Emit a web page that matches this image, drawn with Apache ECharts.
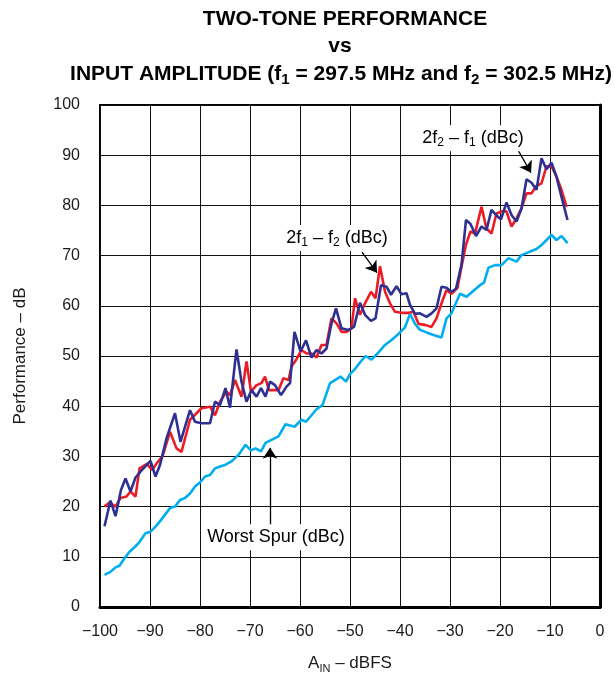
<!DOCTYPE html>
<html>
<head>
<meta charset="utf-8">
<script src="https://cdn.jsdelivr.net/npm/echarts@6/dist/echarts.min.js"></script>
<style>
  html, body { margin: 0; padding: 0; background: #fff; }
  #main { width: 615px; height: 673px; }
</style>
</head>
<body>
<div id="main"></div>
<script>
// 轴刻度
var xTicks = [-100, -90, -80, -70, -60, -50, -40, -30, -20, -10, 0];
var yTicks = [0, 10, 20, 30, 40, 50, 60, 70, 80, 90, 100];

// Worst Spur (dBc)
var spurX = [-99.1, -97.9, -96.9, -96.1, -95.1, -94.1, -93.1, -92.3, -90.9, -89.9, -88.9, -87.9, -86, -85, -84, -83, -82, -81, -80, -79, -78, -77, -76, -75, -73.7, -72.3, -70.9, -69.8, -68.9, -67.8, -66.9, -65.7, -64.3, -62.9, -61.1, -59.7, -58.8, -57.7, -56.7, -55.5, -54, -53, -51.9, -50.8, -50, -49, -48, -46.9, -45.7, -44.3, -43, -41.7, -40.3, -39, -38, -37, -36, -34.7, -33.3, -31.7, -30.7, -29.7, -28, -26.7, -25.3, -24, -23.2, -22.3, -21, -19.7, -18.3, -16.7, -15.7, -14, -12.7, -11.7, -10.7, -9.7, -8.7, -7.7, -6.5];
var spurY = [6.4, 7.0, 7.9, 8.2, 9.7, 11.0, 11.9, 12.7, 14.7, 15.0, 16.0, 17.2, 19.7, 20, 21.3, 21.7, 22.6, 24, 24.8, 26, 26.3, 27.6, 28, 28.3, 29, 30.3, 32.3, 31.2, 31.6, 31.0, 32.7, 33.3, 34, 36.4, 35.9, 37.3, 36.9, 38.2, 39.4, 40.2, 44.6, 45.2, 45.9, 44.9, 46.4, 47.4, 48.7, 50, 49.3, 50.7, 52.2, 53.2, 54.4, 55.7, 58.4, 56.4, 55.2, 54.7, 54.2, 53.7, 57.5, 58.5, 62.4, 61.8, 63, 64.1, 64.6, 67.6, 68.1, 68.1, 69.5, 68.8, 70.1, 70.8, 71.3, 72.1, 73.1, 74.1, 73.1, 73.9, 72.5];

// 2f1 - f2 (dBc)
var imd1X = [-99.1, -98.1, -96.9, -95.9, -94.7, -93.9, -92.9, -92.1, -90.6, -89.6, -88.6, -87.5, -86, -84.7, -83.7, -82, -80.7, -79.7, -78, -77, -76, -74.7, -74, -73, -71.7, -70.7, -69.8, -68.7, -67.7, -67, -66.2, -65.3, -64.3, -63.3, -62.3, -61.7, -60.8, -59.7, -58.7, -57.7, -56.7, -55.7, -54.7, -53.7, -52.7, -51.7, -50.7, -49.7, -49, -48, -47, -45.8, -44.9, -44, -43, -42, -41, -39.7, -38.3, -37.3, -36.3, -35, -33.7, -32.7, -31.7, -30.7, -29.7, -28.5, -27.7, -26.8, -25.9, -25, -23.7, -22.7, -21.7, -20.7, -19.7, -18.7, -17.7, -16.7, -15.7, -14.7, -13.7, -12.7, -11.7, -10.7, -9.7, -8.7, -7.7, -6.7];
var imd1Y = [20, 20.8, 20, 21.7, 22, 23, 22, 27.6, 28.5, 27.3, 28.7, 30, 34.9, 31.6, 30.9, 37.3, 38.6, 39.6, 39.9, 38.2, 40.9, 42.9, 42.2, 45.2, 41.9, 48.9, 42.9, 44.2, 44.6, 45.9, 43.2, 43.2, 43.2, 45.6, 45.2, 47.9, 49.2, 51.2, 50.5, 50.5, 49.7, 52.2, 52.2, 57.5, 56.5, 54.8, 54.8, 55.5, 61.5, 58.2, 60.5, 62.8, 61.5, 67.9, 62.8, 60.5, 58.8, 58.6, 58.6, 58.8, 56.4, 56.2, 55.8, 57.5, 60.5, 63.1, 62.4, 63.6, 67.8, 72.2, 74.8, 74.4, 79.7, 75.4, 74.4, 78.4, 78.8, 78.8, 75.8, 77.4, 79.4, 82.4, 82.4, 83.9, 84.4, 87.8, 87.8, 85.7, 83.1, 79.7];

// 2f2 - f1 (dBc)
var imd2X = [-99.1, -97.9, -96.9, -95.8, -94.9, -93.9, -92.9, -91.6, -89.9, -88.9, -88, -86.7, -85, -83.9, -82, -81, -79.7, -78, -77, -76, -74.9, -74, -72.7, -71.7, -70.7, -69.7, -68.7, -67.8, -66.9, -66, -65, -63.8, -62.7, -62, -61.1, -59.9, -58.8, -57.7, -56.7, -55.7, -54.7, -53.7, -52.8, -51.7, -50.3, -49.2, -48, -47, -45.8, -44.9, -43.8, -42.7, -41.8, -40.7, -39.7, -38.7, -38, -37, -36, -34.7, -33.7, -32.7, -31.7, -30.7, -29.7, -28.8, -27.7, -26.8, -25.9, -24.8, -23.7, -22.7, -21.7, -20.8, -19.8, -18.7, -17.7, -16.7, -15.7, -14.7, -13.7, -12.7, -11.7, -10.7, -9.7, -8.7, -7.7, -6.5];
var imd2Y = [16.1, 21.2, 18.1, 23.3, 25.6, 23.0, 25.8, 27.3, 29.1, 26.0, 28.3, 33.6, 38.6, 32.9, 39.2, 36.9, 36.6, 36.6, 40.9, 40.2, 43.6, 39.7, 51.3, 44.9, 40.9, 43.2, 41.9, 43.6, 41.9, 44.9, 44.2, 42.2, 43.9, 44.6, 54.8, 50.9, 53.1, 49.7, 51.2, 50.5, 51.5, 56.5, 59.5, 55.5, 55.2, 55.8, 60.6, 58.2, 57.0, 57.5, 64.1, 63.8, 62.2, 63.9, 62.3, 62.5, 60.2, 58.4, 58.5, 57.8, 58.5, 59.5, 63.8, 63.6, 62.8, 63.4, 68.2, 77.1, 76.3, 73.9, 75.8, 75.1, 79.1, 78.1, 77.2, 80.6, 78.1, 76.8, 79.4, 85.2, 84.5, 83.1, 89.4, 87.2, 88.5, 85.7, 81.7, 77.1];

// 标注文字和箭头（数据坐标）
var noteText = ['{t|2f}{s|1}{t| – f}{s|2}{t| (dBc)}', '{t|2f}{s|2}{t| – f}{s|1}{t| (dBc)}', '{t|Worst Spur (dBc)}'];
var notePos = [[-52.6, 73.5], [-25.4, 93.4], [-64.8, 13.9]];
var arrowFrom = [[-47.6, 70.7], [-16.4, 91.0], [-66, 15.9]];
var arrowTo = [[-44.6, 66.6], [-13.8, 86.5], [-66, 31.7]];

function zip(xs, ys) {
    var out = [];
    for (var i = 0; i < xs.length; i++) {
        out.push([xs[i], ys[i]]);
    }
    return out;
}

var FONT = '"Liberation Sans", Arial, Helvetica, sans-serif';
var noteRich = {
    t: { fontSize: 18, fontFamily: FONT, color: '#1a1a1a', lineHeight: 22 },
    s: { fontSize: 12, fontFamily: FONT, color: '#1a1a1a', lineHeight: 22, verticalAlign: 'bottom', padding: [7, 0, 0, 0] }
};
var nameRich = {
    t: { fontSize: 17, fontFamily: FONT, color: '#1a1a1a', lineHeight: 22 },
    s: { fontSize: 11, fontFamily: FONT, color: '#1a1a1a', lineHeight: 22, verticalAlign: 'bottom', padding: [7, 0, 0, 0] }
};

var myChart = echarts.init(document.getElementById('main'), null, { renderer: 'canvas' });

var arrows = [];
for (var i = 0; i < arrowFrom.length; i++) {
    arrows.push([{ coord: arrowFrom[i] }, { coord: arrowTo[i] }]);
}

var titleStyle = { fontSize: 21, fontWeight: 'bold', fontFamily: FONT, color: '#000' };

var option = {
    animation: false,
    backgroundColor: '#fff',
    title: [
        { text: 'TWO-TONE PERFORMANCE', left: 340, top: 4, textAlign: 'center', textStyle: titleStyle },
        { text: 'vs', left: 335, top: 31, textAlign: 'center', textStyle: titleStyle },
        { text: '{b|INPUT AMPLITUDE (f}{bs|1}{b| = 297.5 MHz and f}{bs|2}{b| = 302.5 MHz)}',
          left: 336, top: 56, textAlign: 'center',
          textStyle: { rich: {
              b: { fontSize: 21, fontWeight: 'bold', fontFamily: FONT, color: '#000', lineHeight: 26 },
              bs: { fontSize: 15, fontWeight: 'bold', fontFamily: FONT, color: '#000', lineHeight: 26, verticalAlign: 'bottom', padding: [8, 0, 0, 0] }
          } } }
    ],
    grid: {
        left: 100, right: 15, top: 105, bottom: 66,
        outerBoundsMode: 'none', containLabel: false,
        show: true, borderColor: '#000', borderWidth: 2
    },
    xAxis: {
        type: 'value',
        min: xTicks[0], max: xTicks[xTicks.length - 1], interval: 10,
        name: '{t|A}{s|IN}{t| – dBFS}',
        nameLocation: 'middle', nameGap: 45,
        nameTextStyle: { rich: nameRich },
        axisLine: { onZero: false, lineStyle: { color: '#000', width: 3 } },
        axisTick: { show: false },
        splitLine: { lineStyle: { color: '#111', width: 1 } },
        axisLabel: {
            margin: 17, fontSize: 16, fontFamily: FONT, color: '#1a1a1a',
            formatter: function (v) { return v < 0 ? '\u2212' + Math.abs(v) : String(v); }
        }
    },
    yAxis: {
        type: 'value',
        min: yTicks[0], max: yTicks[yTicks.length - 1], interval: 10,
        name: 'Performance – dB',
        nameLocation: 'middle', nameGap: 71, nameRotate: 90,
        nameTextStyle: { fontSize: 17, fontFamily: FONT, color: '#1a1a1a' },
        axisLine: { lineStyle: { color: '#000', width: 3 } },
        axisTick: { show: false },
        splitLine: { lineStyle: { color: '#111', width: 1 } },
        axisLabel: { margin: 20, fontSize: 16, fontFamily: FONT, color: '#1a1a1a' }
    },
    series: [
        {
            name: 'Worst Spur (dBc)', type: 'line', data: zip(spurX, spurY),
            symbol: 'none', lineStyle: { color: '#00aeef', width: 2.6 }, z: 3,
            markLine: {
                silent: true, symbol: ['none', 'arrow'], symbolSize: 11,
                label: { show: false },
                lineStyle: { color: '#000', width: 1.3, type: 'solid' },
                data: arrows
            }
        },
        {
            name: '2f1 - f2 (dBc)', type: 'line', data: zip(imd1X, imd1Y),
            symbol: 'none', lineStyle: { color: '#ed1c24', width: 2.6 }, z: 4
        },
        {
            name: '2f2 - f1 (dBc)', type: 'line', data: zip(imd2X, imd2Y),
            symbol: 'none', lineStyle: { color: '#2e3192', width: 2.6 }, z: 5
        }
    ]
};
myChart.setOption(option);

// 标注文字放到数据坐标上，白底盖住网格线
var notes = [];
for (var j = 0; j < noteText.length; j++) {
    var p = myChart.convertToPixel({ gridIndex: 0 }, notePos[j]);
    notes.push({
        type: 'text', x: p[0], y: p[1], z: 10,
        style: {
            text: noteText[j], rich: noteRich,
            align: 'center', verticalAlign: 'middle',
            backgroundColor: '#fff', padding: [2, 4, 2, 4]
        }
    });
}
myChart.setOption({ graphic: notes });
</script>
</body>
</html>
